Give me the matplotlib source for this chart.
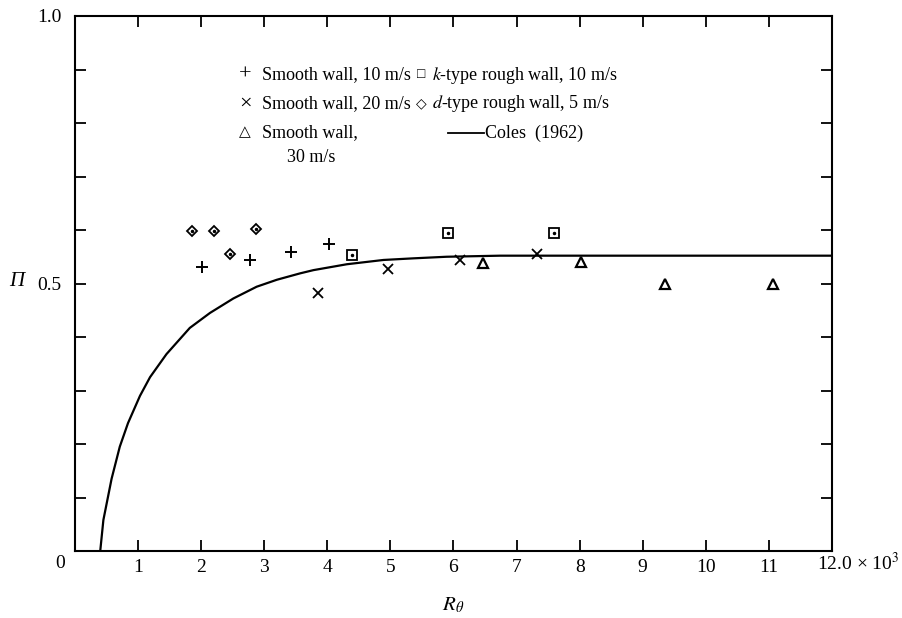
import matplotlib
matplotlib.use("Agg")
import matplotlib.pyplot as plt
from matplotlib.lines import Line2D
import numpy as np

plt.rcParams['font.family'] = ['Liberation Serif', 'DejaVu Serif']
plt.rcParams['mathtext.fontset'] = 'stix'

# ---- data (R_theta in units of 10^3, Pi) ----
smooth10_x = [2.01, 2.78, 3.43, 4.02]
smooth10_y = [0.531, 0.544, 0.558, 0.574]
smooth20_x = [3.85, 4.96, 6.11, 7.32]
smooth20_y = [0.482, 0.528, 0.543, 0.556]
smooth30_x = [6.47, 8.02, 9.35, 11.07]
smooth30_y = [0.539, 0.541, 0.500, 0.500]
ktype_x = [4.39, 5.92, 7.60]
ktype_y = [0.553, 0.595, 0.595]
dtype_x = [1.85, 2.20, 2.46, 2.87]
dtype_y = [0.599, 0.599, 0.556, 0.602]
coles_x = [0.40, 0.45, 0.58, 0.71, 0.84, 1.03, 1.19, 1.45, 1.82, 2.14, 2.51,
           2.88, 3.20, 3.57, 3.78, 4.31, 4.89, 5.36, 5.89, 6.74, 12.0]
coles_y = [0.0, 0.058, 0.135, 0.195, 0.239, 0.290, 0.325, 0.368, 0.417, 0.445,
           0.472, 0.494, 0.507, 0.519, 0.525, 0.536, 0.544, 0.547, 0.550, 0.552, 0.552]
xticks = list(range(0, 13))
xticklabels = [''] + [str(i) for i in range(1, 12)] + ['']
yticks = [round(0.1 * i, 1) for i in range(11)]
yticklabels = ['' if v not in (0.5, 1.0) else f'{v:.1f}' for v in yticks]

W, H = 903, 618
fig = plt.figure(figsize=(W / 100, H / 100), dpi=100)
ax = fig.add_axes([75 / W, 1 - 551 / H, (832 - 75) / W, (551 - 16) / H])

ax.plot(coles_x, coles_y, color='black', lw=1.6, solid_joinstyle='round')
ax.plot(smooth10_x, smooth10_y, ls='none', marker='+', ms=9, mew=1.4, color='black')
ax.plot(smooth20_x, smooth20_y, ls='none', marker='x', ms=7.5, mew=1.3, color='black')
ax.plot(smooth30_x, smooth30_y, ls='none', marker='^', ms=6.5, mew=1.6, mfc='white', mec='black')
ax.plot(ktype_x, ktype_y, ls='none', marker='s', ms=6.5, mew=1.3, mfc='white', mec='black')
ax.plot(ktype_x, ktype_y, ls='none', marker='o', ms=1.5, color='black')
ax.plot(dtype_x, dtype_y, ls='none', marker='D', ms=5, mew=1.3, mfc='white', mec='black')
ax.plot(dtype_x, dtype_y, ls='none', marker='o', ms=1.5, color='black')

ax.set_xlim(0, 12)
ax.set_ylim(0, 1.0)
ax.set_xticks(xticks)
ax.set_xticklabels(xticklabels)
ax.set_yticks(yticks)
ax.set_yticklabels(yticklabels)
ax.tick_params(direction='in', length=8, width=1.3, top=True, right=True,
               labelsize=14, pad=6)
ax.tick_params(axis='y', pad=10)
for s in ax.spines.values():
    s.set_linewidth(1.5)

def px(x, y):
    return x / W, 1 - y / H

fig.text(*px(60, 563), '0', ha='center', va='center', fontsize=14)
fig.text(*px(817, 563), '12.0 × 10$^3$', ha='left', va='center', fontsize=14)
fig.text(*px(453, 605), r'$R_\theta$', ha='center', va='center', fontsize=15)
fig.text(*px(17, 282), 'Π', ha='center', va='center', fontsize=15, style='italic')

fs = 13
rows = [
    (75, '+', 'Smooth wall, 10 m/s', '□', '$k$-type rough wall, 10 m/s'),
    (104, '×', 'Smooth wall, 20 m/s', '◇', '$d$-type rough wall, 5 m/s'),
]
for y, s1, t1, s2, t2 in rows:
    fig.text(*px(245, y), s1, ha='center', va='center', fontsize=fs + 3)
    fig.text(*px(262, y), t1, ha='left', va='center', fontsize=fs)
    fig.text(*px(421, y), s2, ha='center', va='center', fontsize=fs - 3)
    fig.text(*px(432, y), t2, ha='left', va='center', fontsize=fs)
fig.text(*px(245, 133), '△', ha='center', va='center', fontsize=fs - 2)
fig.text(*px(262, 133), 'Smooth wall,', ha='left', va='center', fontsize=fs)
fig.add_artist(Line2D([448 / W, 484 / W], [1 - 133 / H, 1 - 133 / H], color='black', lw=1.3))
fig.text(*px(485, 133), 'Coles  (1962)', ha='left', va='center', fontsize=fs)
fig.text(*px(287, 157), '30 m/s', ha='left', va='center', fontsize=fs)

fig.savefig('out.png', dpi=100)
